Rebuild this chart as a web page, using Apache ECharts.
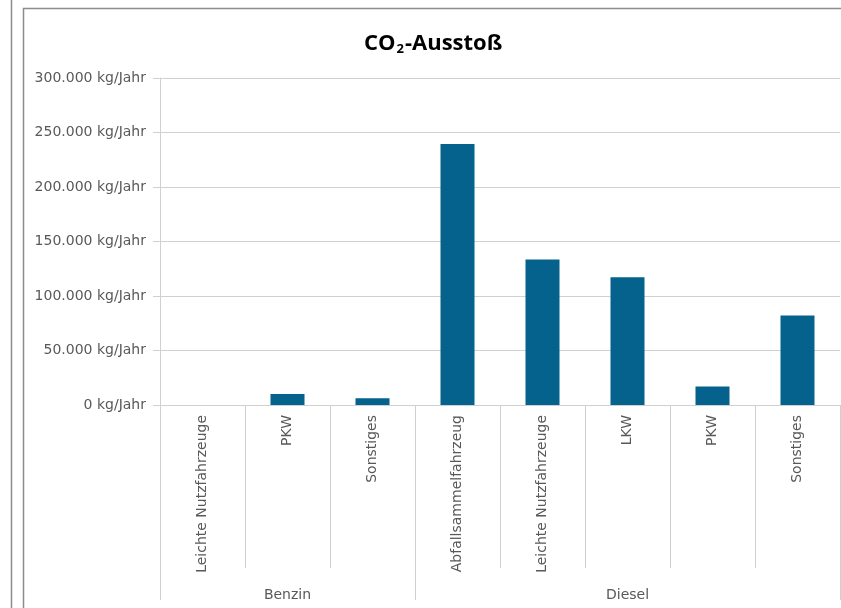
<!DOCTYPE html>
<html>
<head>
<meta charset="utf-8">
<script src="https://cdn.jsdelivr.net/npm/echarts@6/dist/echarts.min.js"></script>
<style>
  html, body { margin: 0; padding: 0; background: #ffffff; }
  #chart { width: 841px; height: 608px; }
</style>
</head>
<body>
<div id="chart"></div>
<script>
// Fahrzeugkategorien, gruppiert nach Kraftstoff
const categories = [
  'Leichte Nutzfahrzeuge', 'PKW', 'Sonstiges',
  'Abfallsammelfahrzeug', 'Leichte Nutzfahrzeuge', 'LKW', 'PKW', 'Sonstiges'
];
// Kraftstoffgruppen: Beschriftung jeweils unter der mittleren Kategorie
const groupLabels = ['', 'Benzin', '', '', '', 'Diesel', '', ''];
const groupStarts = [0, 3];
// CO2-Ausstoß in kg/Jahr
const emissions = [0, 10100, 6200, 239400, 133500, 117200, 16900, 82000];
const yTickLabels = [
  '0 kg/Jahr', '50.000 kg/Jahr', '100.000 kg/Jahr', '150.000 kg/Jahr',
  '200.000 kg/Jahr', '250.000 kg/Jahr', '300.000 kg/Jahr'
];
const yStep = 50000;

const titleFont = 'Open Sans, Liberation Sans, sans-serif';
const font = 'DejaVu Sans, sans-serif';
const gridColor = '#d0d0d0';
const textColor = '#595959';

const chart = echarts.init(document.getElementById('chart'), null, { renderer: 'canvas' });
chart.setOption({
  animation: false,
  backgroundColor: '#ffffff',
  title: {
    text: '{a|CO}{s|2}{a|-Ausstoß}',
    left: 359,
    top: 26,
    textStyle: {
      rich: {
        a: { fontFamily: titleFont, fontWeight: 'bold', fontSize: 22, color: '#000000' },
        s: { fontFamily: titleFont, fontWeight: 'bold', fontSize: 13, color: '#000000', padding: [12, 1, 0, 1] }
      }
    }
  },
  graphic: [
    { type: 'line', shape: { x1: 11.5, y1: 0, x2: 11.5, y2: 608 }, style: { stroke: '#8c8c8c', lineWidth: 1.5 } },
    { type: 'rect', shape: { x: 23.5, y: 8.5, width: 830, height: 620 }, style: { fill: 'none', stroke: '#8c8c8c', lineWidth: 1.5 } }
  ],
  grid: { left: 160, right: 1, top: 78, bottom: 203, containLabel: false },
  xAxis: [
    {
      type: 'category',
      data: categories,
      position: 'bottom',
      axisLine: { show: true, lineStyle: { color: gridColor, width: 1 } },
      axisTick: { show: true, interval: 0, length: 163, lineStyle: { color: gridColor, width: 1 } },
      axisLabel: {
        interval: 0, rotate: 90, margin: 10,
        fontFamily: font, fontSize: 14, color: textColor
      }
    },
    {
      type: 'category',
      data: groupLabels,
      position: 'bottom',
      axisLine: { show: false },
      axisTick: {
        show: true,
        interval: function (index) { return groupStarts.indexOf(index) >= 0; },
        length: 195,
        lineStyle: { color: gridColor, width: 1 }
      },
      axisLabel: {
        interval: 0, margin: 183,
        fontFamily: font, fontSize: 14, color: textColor
      }
    }
  ],
  yAxis: {
    type: 'value',
    min: 0,
    max: 300000,
    interval: yStep,
    axisLine: { show: true, lineStyle: { color: gridColor, width: 1 } },
    axisTick: { show: true, length: 7, lineStyle: { color: gridColor, width: 1 } },
    splitLine: { show: true, lineStyle: { color: gridColor, width: 1 } },
    axisLabel: {
      margin: 14,
      fontFamily: font, fontSize: 14, color: textColor,
      formatter: function (v) { return yTickLabels[Math.round(v / yStep)]; }
    }
  },
  series: [{
    type: 'bar',
    xAxisIndex: 0,
    data: emissions,
    barWidth: '40%',
    itemStyle: { color: '#04628c' }
  }]
});
</script>
</body>
</html>
